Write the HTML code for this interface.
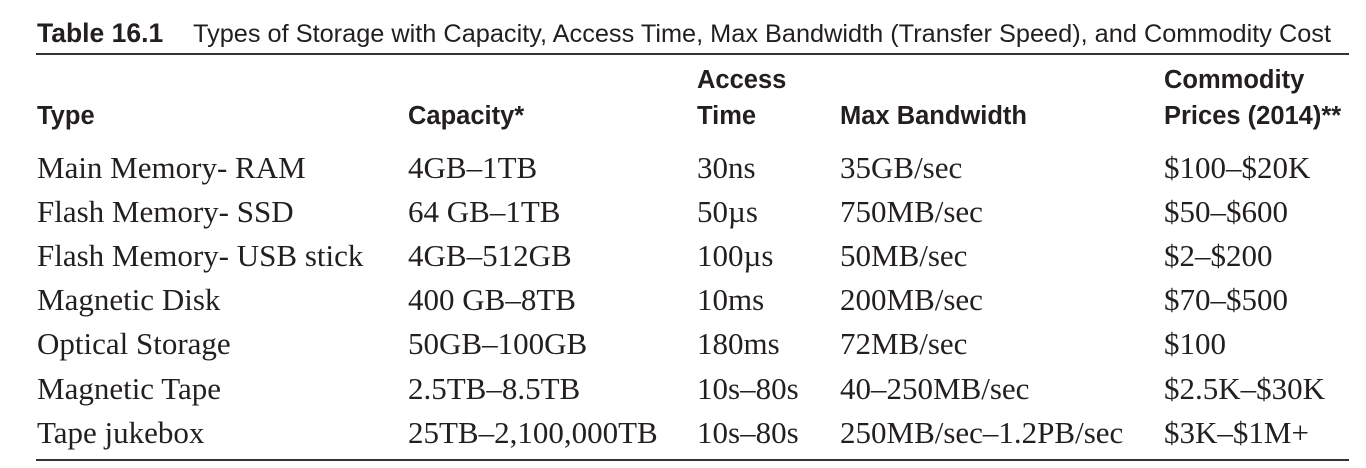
<!DOCTYPE html>
<html><head><meta charset="utf-8"><style>body{margin:0;background:#fff}svg{display:block}</style></head>
<body>
<svg width="1366" height="468" xmlns="http://www.w3.org/2000/svg">
<g fill="#231f20">
<text x="37" y="42" font-family="Liberation Sans, sans-serif" font-weight="bold" font-size="26.5">Table 16.1</text>
<text x="193" y="42" font-family="Liberation Sans, sans-serif" font-size="25" textLength="1138" lengthAdjust="spacingAndGlyphs">Types of Storage with Capacity, Access Time, Max Bandwidth (Transfer Speed), and Commodity Cost</text>
<g font-family="Liberation Sans, sans-serif" font-weight="bold" font-size="25.5">
<text x="37" y="124">Type</text>
<text x="408" y="124">Capacity*</text>
<text x="697" y="88">Access</text>
<text x="697" y="124">Time</text>
<text x="840" y="124">Max Bandwidth</text>
<text x="1164" y="88">Commodity</text>
<text x="1164" y="124">Prices (2014)**</text>
</g>
<g font-family="Liberation Serif, serif" font-size="31">
<text x="37" y="178">Main Memory- RAM</text><text x="408" y="178">4GB–1TB</text><text x="697" y="178">30ns</text><text x="840" y="178">35GB/sec</text><text x="1164" y="178">$100–$20K</text>
<text x="37" y="222">Flash Memory- SSD</text><text x="408" y="222">64 GB–1TB</text><text x="697" y="222">50µs</text><text x="840" y="222">750MB/sec</text><text x="1164" y="222">$50–$600</text>
<text x="37" y="266">Flash Memory- USB stick</text><text x="408" y="266">4GB–512GB</text><text x="697" y="266">100µs</text><text x="840" y="266">50MB/sec</text><text x="1164" y="266">$2–$200</text>
<text x="37" y="310">Magnetic Disk</text><text x="408" y="310">400 GB–8TB</text><text x="697" y="310">10ms</text><text x="840" y="310">200MB/sec</text><text x="1164" y="310">$70–$500</text>
<text x="37" y="354">Optical Storage</text><text x="408" y="354">50GB–100GB</text><text x="697" y="354">180ms</text><text x="840" y="354">72MB/sec</text><text x="1164" y="354">$100</text>
<text x="37" y="399">Magnetic Tape</text><text x="408" y="399">2.5TB–8.5TB</text><text x="697" y="399">10s–80s</text><text x="840" y="399">40–250MB/sec</text><text x="1164" y="399">$2.5K–$30K</text>
<text x="37" y="443">Tape jukebox</text><text x="408" y="443">25TB–2,100,000TB</text><text x="697" y="443">10s–80s</text><text x="840" y="443">250MB/sec–1.2PB/sec</text><text x="1164" y="443">$3K–$1M+</text>
</g>
</g>
<rect x="36" y="53" width="1313" height="2" fill="#333"/>
<rect x="36" y="459" width="1313" height="2" fill="#333"/>
</svg>
</body></html>
